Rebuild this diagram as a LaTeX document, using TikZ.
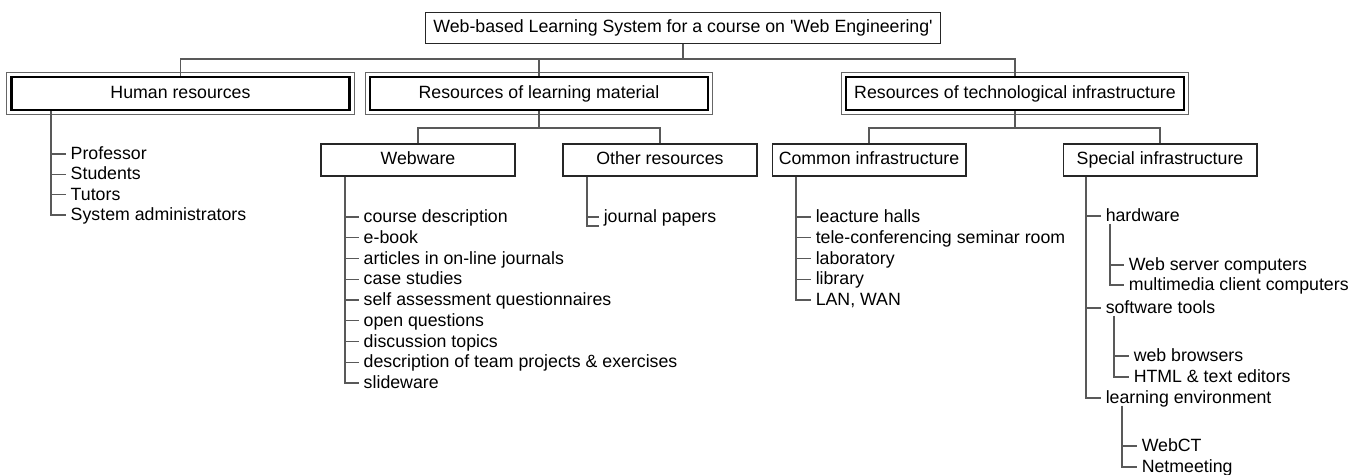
\documentclass[tikz,border=0pt]{standalone}
\usepackage{fontspec}
\setmainfont{Liberation Sans}
\begin{document}
\begin{tikzpicture}[
    x=0.02cm, y=-0.02cm,
    every node/.style={font=\fontsize{10.1}{12}\selectfont},
    topbox/.style={draw=black!85, line width=0.6pt, minimum width=10.32cm, minimum height=0.62cm, text height=7.5pt, text depth=1.8pt},
    mainbox/.style={draw=black, line width=1.3pt, minimum width=6.76cm, minimum height=0.66cm, text height=7.5pt, text depth=1.8pt},
    frame/.style={draw=black!60, line width=0.5pt},
    subbox/.style={draw=black!85, line width=0.6pt, minimum width=3.88cm, minimum height=0.64cm, text height=7.5pt, text depth=1.8pt},
    item/.style={anchor=west, inner xsep=2.5pt, inner ysep=0pt, text height=7.5pt, text depth=1.2pt},
    link/.style={draw=black!65, line width=0.6pt}
]
    \useasboundingbox (0,0) rectangle (1366,475);

    \node[topbox] (root) at (683,28) {Web-based Learning System for a course on \textquotesingle Web Engineering\textquotesingle};

    \node[mainbox] (hum) at (180.5,93.5) {Human resources};
    \node[mainbox] (lrn) at (539,93.5) {Resources of learning material};
    \node[mainbox] (tec) at (1015,93.5) {Resources of technological infrastructure};

    \draw[frame] ([shift={(-3.5,3.5)}]hum.south west) rectangle ([shift={(3.5,-3.5)}]hum.north east);
    \draw[frame] ([shift={(-3.5,3.5)}]lrn.south west) rectangle ([shift={(3.5,-3.5)}]lrn.north east);
    \draw[frame] ([shift={(-3.5,3.5)}]tec.south west) rectangle ([shift={(3.5,-3.5)}]tec.north east);

    \node[subbox] (web) at (418,160) {Webware};
    \node[subbox] (oth) at (660,160) {Other resources};
    \node[subbox] (com) at (869,160) {Common infrastructure};
    \node[subbox] (spc) at (1160,160) {Special infrastructure};

    \coordinate (j1) at (683,59);
    \coordinate (j2) at (539,128);
    \coordinate (j3) at (1015,128);

    \draw[link] (root) -- (j1);
    \draw[link] (hum) |- (j1) -| (tec);
    \draw[link] (lrn) -- (lrn |- j1);
    \draw[link] (lrn) -- (j2);
    \draw[link] (web) |- (j2) -| (oth);
    \draw[link] (tec) -- (j3);
    \draw[link] (com) |- (j3) -| (spc);

    \node[item] (hum1) at (66,154) {Professor};
    \node[item] (hum2) at (66,174.3) {Students};
    \node[item] (hum3) at (66,194.6) {Tutors};
    \node[item] (hum4) at (66,215) {System administrators};

    \node[item] (web1) at (359,217) {course description};
    \node[item] (web2) at (359,237.75) {e-book};
    \node[item] (web3) at (359,258.5) {articles in on-line journals};
    \node[item] (web4) at (359,279.25) {case studies};
    \node[item] (web5) at (359,300) {self assessment questionnaires};
    \node[item] (web6) at (359,320.75) {open questions};
    \node[item] (web7) at (359,341.5) {discussion topics};
    \node[item] (web8) at (359,362.25) {description of team projects \& exercises};
    \node[item] (web9) at (359,383) {slideware};

    \node[item] (oth1) at (599,217) {journal papers};
    \coordinate (othend) at (599,226);

    \node[item] (com1) at (811,217) {leacture halls};
    \node[item] (com2) at (811,237.75) {tele-conferencing seminar room};
    \node[item] (com3) at (811,258.5) {laboratory};
    \node[item] (com4) at (811,279.25) {library};
    \node[item] (com5) at (811,300) {LAN, WAN};

    \node[item] (spc1) at (1101,216) {hardware};
    \node[item] (hw1) at (1124,265) {Web server computers};
    \node[item] (hw2) at (1124,285) {multimedia client computers};
    \node[item] (spc2) at (1101,308) {software tools};
    \node[item] (sw1) at (1129,356) {web browsers};
    \node[item] (sw2) at (1129,377) {HTML \& text editors};
    \node[item] (spc3) at (1101,398) {learning environment};
    \node[item] (le1) at (1137,446) {WebCT};
    \node[item] (le2) at (1137,467) {Netmeeting};

    \coordinate (xh) at (51,0);
    \coordinate (xw) at (345,0);
    \coordinate (xo) at (587,0);
    \coordinate (xc) at (796,0);
    \coordinate (xs) at (1086,0);
    \coordinate (xhw) at (1110,0);
    \coordinate (xsw) at (1114,0);
    \coordinate (xle) at (1122,0);

    \draw[link] (xh |- hum.south) |- (hum4);
    \draw[link] (xh |- hum1) -- (hum1);
    \draw[link] (xh |- hum2) -- (hum2);
    \draw[link] (xh |- hum3) -- (hum3);

    \draw[link] (xw |- web.south) |- (web9);
    \draw[link] (xw |- web1) -- (web1);
    \draw[link] (xw |- web2) -- (web2);
    \draw[link] (xw |- web3) -- (web3);
    \draw[link] (xw |- web4) -- (web4);
    \draw[link] (xw |- web5) -- (web5);
    \draw[link] (xw |- web6) -- (web6);
    \draw[link] (xw |- web7) -- (web7);
    \draw[link] (xw |- web8) -- (web8);

    \draw[link] (xo |- oth.south) |- (othend);
    \draw[link] (xo |- oth1) -- (oth1);

    \draw[link] (xc |- com.south) |- (com5);
    \draw[link] (xc |- com1) -- (com1);
    \draw[link] (xc |- com2) -- (com2);
    \draw[link] (xc |- com3) -- (com3);
    \draw[link] (xc |- com4) -- (com4);

    \draw[link] (xs |- spc.south) |- (spc3);
    \draw[link] (xs |- spc1) -- (spc1);
    \draw[link] (xs |- spc2) -- (spc2);

    \draw[link] (xhw |- spc1.south) |- (hw2);
    \draw[link] (xhw |- hw1) -- (hw1);
    \draw[link] (xsw |- spc2.south) |- (sw2);
    \draw[link] (xsw |- sw1) -- (sw1);
    \draw[link] (xle |- spc3.south) |- (le2);
    \draw[link] (xle |- le1) -- (le1);

\end{tikzpicture}
\end{document}
